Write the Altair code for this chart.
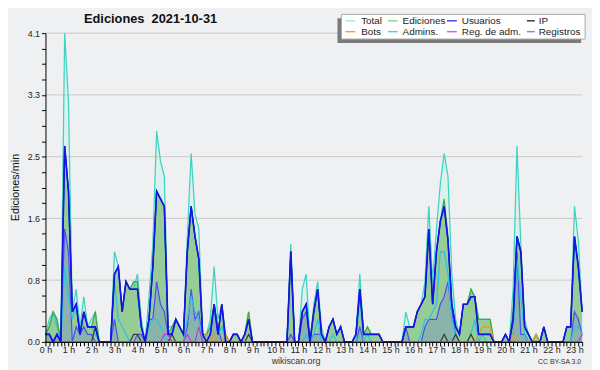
import altair as alt
import pandas as pd

# 10-minute bins, 00:00 .. 23:20
minutos = list(range(0, 1401, 10))

total = [
    0.1, 0.3, 0.4, 0.3, 0.0, 4.1,
    3.2, 0.4, 0.7, 0.2, 0.6, 0.2,
    0.3, 0.4, 0.0, 0.0, 0.0, 0.0,
    1.2, 1.0, 0.4, 0.8, 0.7, 0.7,
    0.9, 0.3, 0.0, 0.6, 1.3, 2.8,
    2.4, 2.2, 0.2, 0.2, 0.3, 0.2,
    0.1, 1.4, 2.5, 1.7, 1.5, 0.1,
    0.1, 0.3, 1.0, 0.3, 0.5, 0.0,
    0.0, 0.1, 0.1, 0.0, 0.1, 0.4,
    0.0, 0.0, 0.0, 0.0, 0.0, 0.0,
    0.0, 0.0, 0.0, 0.0, 1.3, 0.0,
    0.0, 0.7, 0.9, 0.0, 0.5, 0.8,
    0.2, 0.0, 0.2, 0.3, 0.1, 0.2,
    0.0, 0.0, 0.0, 0.1, 0.9, 0.1,
    0.2, 0.1, 0.1, 0.1, 0.0, 0.0,
    0.0, 0.0, 0.0, 0.0, 0.4, 0.2,
    0.2, 0.4, 0.5, 0.8, 1.8, 0.8,
    1.5, 2.1, 2.5, 2.2, 0.9, 0.3,
    0.1, 0.5, 0.5, 0.7, 0.6, 0.3,
    0.3, 0.3, 0.3, 0.0, 0.0, 0.0,
    0.1, 0.0, 0.7, 2.6, 1.3, 0.3,
    0.1, 0.0, 0.1, 0.0, 0.2, 0.0,
    0.0, 0.0, 0.0, 0.0, 0.2, 0.2,
    1.8, 1.35, 0.4,
]

ediciones = [
    0.1, 0.2, 0.4, 0.3, 0.0, 2.6,
    2.0, 0.4, 0.5, 0.1, 0.4, 0.2,
    0.2, 0.4, 0.0, 0.0, 0.0, 0.0,
    0.9, 1.0, 0.4, 0.8, 0.7, 0.8,
    0.8, 0.2, 0.0, 0.3, 1.0, 2.0,
    1.9, 1.8, 0.1, 0.2, 0.3, 0.2,
    0.1, 1.2, 1.8, 1.4, 1.1, 0.1,
    0.1, 0.2, 0.5, 0.1, 0.5, 0.1,
    0.0, 0.1, 0.1, 0.0, 0.1, 0.4,
    0.0, 0.0, 0.0, 0.0, 0.0, 0.0,
    0.0, 0.0, 0.0, 0.0, 1.2, 0.0,
    0.0, 0.4, 0.5, 0.0, 0.4, 0.7,
    0.1, 0.0, 0.2, 0.3, 0.1, 0.2,
    0.0, 0.0, 0.0, 0.1, 0.7, 0.1,
    0.2, 0.1, 0.1, 0.1, 0.0, 0.0,
    0.0, 0.0, 0.0, 0.0, 0.2, 0.2,
    0.2, 0.4, 0.5, 0.6, 1.5, 0.5,
    1.2, 1.6, 1.9, 1.4, 0.5, 0.2,
    0.1, 0.5, 0.5, 0.7, 0.6, 0.3,
    0.3, 0.3, 0.3, 0.0, 0.0, 0.0,
    0.1, 0.0, 0.4, 1.4, 1.2, 0.2,
    0.1, 0.0, 0.1, 0.0, 0.2, 0.0,
    0.0, 0.0, 0.0, 0.0, 0.2, 0.2,
    1.4, 1.0, 0.4,
]

usuarios = [
    0.1, 0.1, 0.0, 0.1, 0.0, 2.6,
    2.0, 0.4, 0.5, 0.1, 0.4, 0.2,
    0.2, 0.2, 0.0, 0.0, 0.0, 0.0,
    0.9, 1.0, 0.4, 0.8, 0.7, 0.7,
    0.7, 0.2, 0.0, 0.3, 1.0, 2.0,
    1.9, 1.8, 0.1, 0.1, 0.3, 0.2,
    0.1, 1.2, 1.8, 1.4, 1.1, 0.1,
    0.0, 0.1, 0.5, 0.1, 0.5, 0.0,
    0.0, 0.1, 0.1, 0.0, 0.1, 0.3,
    0.0, 0.0, 0.0, 0.0, 0.0, 0.0,
    0.0, 0.0, 0.0, 0.0, 1.2, 0.0,
    0.0, 0.4, 0.5, 0.0, 0.4, 0.7,
    0.1, 0.0, 0.2, 0.3, 0.1, 0.2,
    0.0, 0.0, 0.0, 0.1, 0.7, 0.1,
    0.1, 0.1, 0.1, 0.1, 0.0, 0.0,
    0.0, 0.0, 0.0, 0.0, 0.2, 0.2,
    0.2, 0.4, 0.5, 0.6, 1.5, 0.5,
    1.2, 1.6, 1.8, 1.35, 0.5, 0.2,
    0.1, 0.5, 0.5, 0.6, 0.6, 0.1,
    0.1, 0.1, 0.1, 0.0, 0.0, 0.0,
    0.1, 0.0, 0.3, 1.4, 1.2, 0.2,
    0.1, 0.0, 0.0, 0.0, 0.2, 0.0,
    0.0, 0.0, 0.0, 0.0, 0.2, 0.2,
    1.4, 1.0, 0.4,
]

ip = [
    0, 0, 0, 0, 0, 0,
    0, 0, 0, 0, 0, 0,
    0, 0.2, 0, 0, 0, 0,
    0, 0, 0, 0, 0, 0.1,
    0.1, 0, 0, 0, 0, 0,
    0, 0, 0, 0.1, 0, 0,
    0, 0, 0, 0, 0, 0,
    0, 0, 0, 0, 0, 0,
    0, 0, 0, 0, 0, 0.1,
    0, 0, 0, 0, 0, 0,
    0, 0, 0, 0, 0, 0,
    0, 0, 0, 0, 0, 0,
    0, 0, 0, 0, 0, 0,
    0, 0, 0, 0, 0, 0,
    0, 0, 0, 0, 0, 0,
    0, 0, 0, 0, 0, 0,
    0, 0, 0, 0, 0, 0,
    0, 0, 0.1, 0, 0, 0.1,
    0, 0, 0, 0.1, 0, 0,
    0, 0, 0, 0, 0, 0,
    0, 0, 0, 0, 0, 0,
    0, 0, 0, 0, 0, 0,
    0, 0, 0, 0, 0, 0,
    0, 0, 0,
]

bots = [
    0, 0, 0, 0, 0, 0,
    0, 0, 0, 0, 0, 0,
    0, 0, 0, 0, 0, 0,
    0, 0, 0, 0, 0, 0,
    0, 0, 0, 0, 0, 0,
    0, 0, 0, 0, 0, 0,
    0, 0, 0, 0, 0, 0,
    0.1, 0, 0.1, 0, 0, 0.1,
    0, 0, 0, 0, 0, 0,
    0, 0, 0, 0, 0, 0,
    0, 0, 0, 0, 0, 0,
    0, 0, 0, 0, 0, 0,
    0, 0, 0, 0, 0, 0,
    0, 0, 0, 0, 0, 0,
    0, 0, 0, 0, 0, 0,
    0, 0, 0, 0, 0, 0,
    0, 0, 0, 0, 0, 0,
    0, 0, 0, 0, 0, 0,
    0, 0, 0, 0, 0, 0.1,
    0.2, 0.2, 0.2, 0, 0, 0,
    0, 0, 0.1, 0, 0, 0,
    0, 0, 0.1, 0, 0, 0,
    0, 0, 0, 0, 0, 0,
    0, 0, 0,
]

admins = [
    0.1, 0.2, 0.4, 0.2, 0.0, 1.0,
    0.6, 0.3, 0.5, 0.1, 0.4, 0.2,
    0.2, 0.1, 0.0, 0.0, 0.0, 0.0,
    0.8, 0.3, 0.2, 0.1, 0.0, 0.0,
    0.0, 0.0, 0.0, 0.2, 0.3, 0.3,
    0.2, 0.1, 0.0, 0.0, 0.0, 0.0,
    0.0, 0.3, 0.6, 0.4, 0.3, 0.0,
    0.0, 0.1, 0.4, 0.1, 0.2, 0.0,
    0, 0, 0, 0, 0, 0,
    0, 0, 0, 0, 0, 0,
    0.0, 0.0, 0.0, 0.0, 1.1, 0.0,
    0.0, 0.0, 0.1, 0.0, 0.1, 0.3,
    0.0, 0.0, 0.0, 0.1, 0.0, 0.0,
    0.0, 0.0, 0.0, 0.0, 0.6, 0.0,
    0.1, 0, 0, 0, 0, 0,
    0, 0, 0, 0, 0, 0,
    0.0, 0.0, 0.1, 0.3, 0.3, 0.4,
    0.5, 1.2, 1.2, 0.9, 0.3, 0.1,
    0.0, 0.0, 0.0, 0.1, 0.3, 0.0,
    0.1, 0, 0, 0, 0, 0,
    0.0, 0.0, 0.1, 1.1, 0.6, 0.1,
    0, 0, 0, 0, 0, 0,
    0, 0, 0, 0, 0, 0,
    0.2, 0.2, 0.1,
]

reg_adm = [
    0, 0, 0, 0, 0, 0,
    0, 0, 0, 0, 0, 0,
    0, 0, 0, 0, 0, 0,
    0, 0, 0, 0, 0, 0,
    0, 0, 0, 0, 0, 0,
    0, 0.1, 0.1, 0, 0, 0,
    0, 0.1, 0, 0, 0.2, 0,
    0, 0, 0, 0, 0, 0,
    0, 0, 0, 0, 0, 0,
    0, 0, 0, 0, 0, 0,
    0, 0, 0, 0, 0, 0,
    0, 0, 0, 0, 0, 0,
    0, 0, 0, 0, 0, 0,
    0, 0, 0, 0, 0, 0,
    0, 0, 0, 0, 0, 0,
    0, 0, 0, 0, 0, 0,
    0, 0, 0, 0, 0, 0,
    0, 0, 0, 0, 0, 0,
    0, 0, 0, 0, 0, 0,
    0, 0, 0, 0, 0, 0,
    0, 0, 0, 0, 0, 0,
    0, 0, 0, 0, 0, 0,
    0, 0, 0, 0, 0, 0,
    0, 0, 0.1,
]

registros = [
    0.1, 0.1, 0.0, 0.1, 0.0, 1.5,
    1.2, 0.0, 0.2, 0.1, 0.2, 0.1,
    0.1, 0.0, 0.0, 0.0, 0.0, 0.0,
    0.3, 0.0, 0.0, 0.0, 0.0, 0.0,
    0.1, 0.1, 0.0, 0.3, 0.3, 0.8,
    0.5, 0.4, 0.1, 0.0, 0.0, 0.0,
    0.0, 0.2, 0.7, 0.3, 0.4, 0.0,
    0.0, 0.1, 0.5, 0.2, 0.0, 0.0,
    0, 0, 0, 0, 0, 0,
    0, 0, 0, 0, 0, 0,
    0.0, 0.0, 0.0, 0.0, 0.1, 0.0,
    0.0, 0.3, 0.4, 0.0, 0.1, 0.1,
    0.1, 0, 0, 0, 0, 0,
    0.0, 0.0, 0.0, 0.0, 0.2, 0.0,
    0, 0, 0, 0, 0, 0,
    0.0, 0.0, 0.0, 0.0, 0.2, 0.0,
    0.0, 0.0, 0.0, 0.2, 0.3, 0.3,
    0.3, 0.5, 0.6, 0.8, 0.4, 0.1,
    0, 0, 0, 0, 0, 0,
    0, 0, 0, 0, 0, 0,
    0.0, 0.0, 0.3, 1.2, 0.1, 0.1,
    0, 0, 0, 0, 0, 0,
    0, 0, 0, 0, 0, 0,
    0.4, 0.3, 0.1,
]

legend_order = ["Total", "Ediciones", "Usuarios", "IP", "Bots", "Admins.", "Reg. de adm.", "Registros"]
line_colors = ["#3dd2c2", "#3cae3c", "#1414e4", "#3a3a3a", "#f0961e", "#2cc2e2", "#c23ae6", "#5050f2"]
legend_colors = ["#a6e6de", "#8fd68f", "#4646e6", "#3a3a3a", "#f4a040", "#56cce4", "#d060e8", "#8484f0"]
draw_order = ["Total", "Registros", "Admins.", "Ediciones", "Usuarios", "IP", "Bots", "Reg. de adm."]

series = {
    "Total": total, "Ediciones": ediciones, "Usuarios": usuarios, "IP": ip,
    "Bots": bots, "Admins.": admins, "Reg. de adm.": reg_adm, "Registros": registros,
}

rows = []
for name in draw_order:
    for m, v in zip(minutos, series[name]):
        rows.append({"m": m, "serie": name, "v": v})
df = pd.DataFrame(rows)

x_ticks = minutos
y_ticks = [round(k * 4.1 / 20, 4) for k in range(21)]
y_grid = [0.82, 1.64, 2.46, 3.28, 4.1]

FONT = "Liberation Sans"
xs = alt.Scale(domain=[0, 1400], nice=False)
ys = alt.Scale(domain=[0, 4.1], nice=False)

x_axis = alt.Axis(values=x_ticks, labelExpr="datum.value % 60 == 0 ? (datum.value / 60) + ' h' : ''",
                  labelOverlap=False, labelFlush=False, grid=False, title=None, zindex=1,
                  tickSize=4, tickColor="#000", domainColor="#000", labelFont=FONT,
                  labelFontSize=9, labelColor="#222", labelPadding=0)
y_axis = alt.Axis(values=y_ticks,
                  labelExpr="abs(datum.value / 0.82 - round(datum.value / 0.82)) < 0.01 ? format(datum.value, '.1f') : ''",
                  labelOverlap=False, grid=False, title="Ediciones/min", tickSize=4, zindex=1,
                  tickColor="#000", domainColor="#000", labelFont=FONT, labelFontSize=9,
                  labelColor="#222", labelPadding=2, titleFont=FONT, titleFontSize=11,
                  titleFontWeight="normal", titleColor="#111", titleX=-30, titleY=156,
                  titleAngle=-90, titleAlign="center", titleBaseline="middle")

X = alt.X("m:Q", scale=xs, axis=x_axis)
Y = alt.Y("v:Q", scale=ys, axis=y_axis)

base = alt.Chart(df)

area_total = base.transform_filter(alt.datum.serie == "Total").mark_area(
    color="#daf2ed", opacity=1).encode(x=X, y=Y)
grid = alt.Chart(pd.DataFrame({"g": y_grid})).mark_rule(color="#c9c9c9", strokeWidth=1).encode(
    y=alt.Y("g:Q", scale=ys, axis=y_axis))
area_ed = base.transform_filter(alt.datum.serie == "Ediciones").mark_area(
    color="#96cd96", opacity=1).encode(x=X, y=Y)
area_reg = base.transform_filter(alt.datum.serie == "Registros").mark_area(
    color="#6a6ae8", opacity=0.26).encode(x=X, y=Y)

lines = base.mark_line(strokeWidth=1.25).encode(
    x=X, y=Y,
    color=alt.Color("serie:N", scale=alt.Scale(domain=legend_order, range=line_colors), legend=None),
)
line_us = base.transform_filter(alt.datum.serie == "Usuarios").mark_line(
    strokeWidth=1.6, color="#1414e4").encode(x=X, y=Y)

# legend (hand-placed box, like the original)
leg = pd.DataFrame({
    "name": legend_order,
    "color": legend_colors,
    "sx": [304, 347, 407, 488, 304, 347, 407, 488],
    "sw": [10, 10, 10, 8, 10, 10, 10, 8],
    "tx": [320, 362, 422, 500, 320, 362, 422, 500],
    "ly": [-12.5, -12.5, -12.5, -12.5, -1.5, -1.5, -1.5, -1.5],
})
leg["sx2"] = leg["sx"] + leg["sw"]

shadow = alt.Chart(pd.DataFrame({"a": [1]})).mark_rect(color="#7a7a7a").encode(
    x=alt.value(296), x2=alt.value(543), y=alt.value(-15), y2=alt.value(10))
box = alt.Chart(pd.DataFrame({"a": [1]})).mark_rect(fill="#ffffff", stroke="#a8a8a8", strokeWidth=1).encode(
    x=alt.value(300), x2=alt.value(547), y=alt.value(-19), y2=alt.value(6))
leg_sym = alt.Chart(leg).mark_rule(strokeWidth=1.5).encode(
    x=alt.X("sx:Q", scale=None, axis=None), x2="sx2:Q",
    y=alt.Y("ly:Q", scale=None, axis=None),
    color=alt.Color("color:N", scale=None, legend=None))
leg_txt = alt.Chart(leg).mark_text(font=FONT, fontSize=10, color="#222", align="left",
                                   baseline="middle").encode(
    x=alt.X("tx:Q", scale=None, axis=None), y=alt.Y("ly:Q", scale=None, axis=None), text="name:N")

title_txt = "Ediciones\u00a0 2021-10-31"
title = alt.Chart(pd.DataFrame({"t": [title_txt]})).mark_text(
    font=FONT, fontSize=13, fontWeight="bold", color="#111", align="left", baseline="alphabetic").encode(
    x=alt.value(39), y=alt.value(-10), text="t:N")
footer = alt.Chart(pd.DataFrame({"t": ["wikiscan.org"]})).mark_text(
    font=FONT, fontSize=9, color="#333", align="center", baseline="alphabetic").encode(
    x=alt.value(254), y=alt.value(335), text="t:N")
lic = alt.Chart(pd.DataFrame({"t": ["CC BY-SA 3.0"]})).mark_text(
    font=FONT, fontSize=7, color="#333", align="right", baseline="alphabetic").encode(
    x=alt.value(543), y=alt.value(335), text="t:N")

chart = alt.layer(area_total, grid, area_ed, area_reg, lines, line_us,
                  shadow, box, leg_sym, leg_txt, title, footer, lic).properties(
    width=544, height=313, background="#eff0f1",
    padding={"left": 38, "top": 23, "right": 10, "bottom": 26},
    autosize=alt.AutoSizeParams(type="none"),
).configure_view(stroke=None)

chart.save("out.html", embed_options={"renderer": "svg", "actions": False})
